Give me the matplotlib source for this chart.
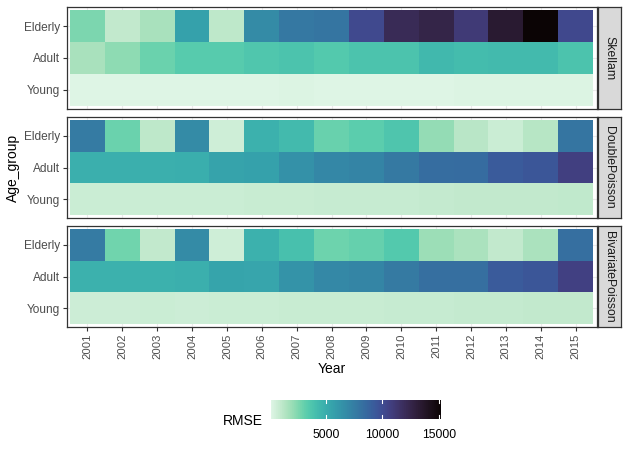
import numpy as np
import matplotlib
matplotlib.use("Agg")
import matplotlib.pyplot as plt
import seaborn as sns

plt.rcParams['font.family'] = ['Liberation Sans', 'DejaVu Sans']

years = [str(y) for y in range(2001, 2016)]
age_groups = ["Young", "Adult", "Elderly"]
models = ["Skellam", "DoublePoisson", "BivariatePoisson"]

skellam_elderly = [2550, 950, 1600, 5600, 1100, 6830, 7800, 7900, 10150, 12100, 12600, 11050, 13400, 15200, 10250]
skellam_adult = [1600, 2200, 2900, 3400, 3400, 3600, 3800, 3500, 3800, 3800, 4400, 4200, 4300, 4300, 3800]
skellam_young = [150, 130, 120, 140, 130, 150, 180, 170, 160, 150, 160, 200, 220, 230, 200]

dp_elderly = [7650, 2900, 1100, 6830, 600, 4780, 4250, 3000, 3300, 3700, 2100, 1200, 750, 1250, 7900]
dp_adult = [4890, 4890, 4890, 4900, 5520, 5600, 6470, 6980, 7140, 7750, 8320, 8420, 9280, 9490, 10710]
dp_young = [750, 720, 760, 720, 760, 800, 820, 850, 850, 880, 900, 950, 980, 1000, 1050]

bp_elderly = [7650, 2800, 950, 6830, 600, 4780, 4000, 2850, 3050, 3500, 1900, 1550, 1000, 1550, 8270]
bp_adult = [4800, 4800, 4800, 4850, 5450, 5400, 6350, 6900, 7100, 7700, 8300, 8300, 9300, 9500, 10650]
bp_young = [700, 680, 720, 700, 720, 760, 780, 800, 820, 840, 860, 900, 920, 950, 980]

data = {
    "Skellam": [skellam_young, skellam_adult, skellam_elderly],
    "DoublePoisson": [dp_young, dp_adult, dp_elderly],
    "BivariatePoisson": [bp_young, bp_adult, bp_elderly],
}

cmap = sns.color_palette("mako_r", as_cmap=True)
allv = np.concatenate([np.array(v).ravel() for v in data.values()])
vmin, vmax = allv.min(), allv.max()

W, H = 628, 453
fig = plt.figure(figsize=(W / 100, H / 100), dpi=100)

def frac(x0, y0, x1, y1):
    return [x0 / W, 1 - y1 / H, (x1 - x0) / W, (y1 - y0) / H]

panels = [(7, 109), (117, 218), (226, 327)]
left, right = 66.5, 596.5
dark = "#333333"
grey30 = "#4D4D4D"

mesh = None
for i, m in enumerate(models):
    top, bot = panels[i]
    ax = fig.add_axes(frac(left, top, right, bot))
    Z = np.array(data[m], dtype=float)
    xe = np.arange(0.5, len(years) + 1, 1.0)
    ye = np.arange(0.5, len(age_groups) + 1, 1.0)
    mesh = ax.pcolormesh(xe, ye, Z, cmap=cmap, vmin=vmin, vmax=vmax, zorder=2)
    ax.set_xlim(0.4, len(years) + 0.6)
    ax.set_ylim(0.4, len(age_groups) + 0.6)
    ax.set_xticks(range(1, len(years) + 1))
    ax.set_yticks(range(1, len(age_groups) + 1))
    ax.set_yticklabels(age_groups, fontsize=8.6, color=grey30)
    ax.grid(True, color="#EBEBEB", linewidth=0.8, zorder=0)
    ax.set_axisbelow(True)
    for s in ax.spines.values():
        s.set_color(dark)
        s.set_linewidth(0.9)
    ax.tick_params(axis='both', length=3.2, width=0.8, color=dark, pad=1.5)
    if i == len(models) - 1:
        ax.set_xticklabels(years, rotation=90, fontsize=8.1, color=grey30)
        ax.set_xlabel("Year", fontsize=10, color="black", labelpad=2)
    else:
        ax.set_xticklabels([])
        ax.tick_params(axis='x', length=0)
    if i == 1:
        ax.set_ylabel("Age_group", fontsize=10, color="black", labelpad=3)
    # strip
    sax = fig.add_axes(frac(597.5, top, 620.5, bot))
    sax.set_facecolor("#D9D9D9")
    sax.set_xticks([])
    sax.set_yticks([])
    for s in sax.spines.values():
        s.set_color(dark)
        s.set_linewidth(0.9)
    sax.text(0.5, 0.5, m, rotation=270, ha='center', va='center',
             fontsize=8.8, color="#1A1A1A", transform=sax.transAxes)

# colorbar
cax = fig.add_axes(frac(271, 399.5, 441, 419))
cb = fig.colorbar(mesh, cax=cax, orientation='horizontal')
cb.outline.set_visible(False)
ticks = [5000, 10000, 15000]
cb.set_ticks(ticks)
cb.set_ticklabels([str(t) for t in ticks])
cax.tick_params(axis='x', length=0, labelsize=8.8, labelcolor="black", pad=7)
for t in ticks:
    cax.plot([t, t], [0, 0.2], color="white", linewidth=0.8, transform=cax.get_xaxis_transform())
    cax.plot([t, t], [0.8, 1.0], color="white", linewidth=0.8, transform=cax.get_xaxis_transform())
fig.text(222.5 / W, 1 - 421 / H, "RMSE", fontsize=10, ha='left', va='center', color="black")

fig.savefig("out.png", dpi=100)
